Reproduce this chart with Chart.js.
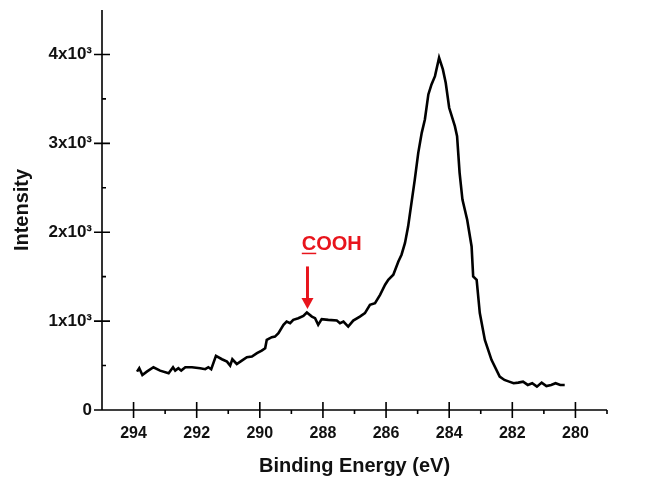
<!DOCTYPE html>
<html>
<head>
<meta charset="utf-8">
<script src="https://cdn.jsdelivr.net/npm/chart.js@4"></script>
<style>
  html, body { margin: 0; background: #fff; }
  #wrap { width: 648px; height: 480px; }
</style>
</head>
<body>
<div id="wrap"><canvas id="c"></canvas></div>
<script>
// C1s spectrum (binding energy in eV, intensity in counts)
const energy = [293.89, 293.82, 293.72, 293.58, 293.37, 293.16, 292.89, 292.75, 292.68, 292.58,
  292.49, 292.36, 292.15, 291.89, 291.73, 291.63, 291.54, 291.39, 291.20, 291.04,
  290.94, 290.87, 290.73, 290.57, 290.41, 290.25, 290.09, 289.94, 289.83, 289.78,
  289.62, 289.52, 289.41, 289.25, 289.15, 289.04, 288.94, 288.78, 288.62, 288.51,
  288.35, 288.25, 288.15, 288.04, 287.83, 287.56, 287.46, 287.35, 287.20, 287.04,
  286.83, 286.67, 286.51, 286.35, 286.19, 286.03, 285.93, 285.77, 285.61, 285.51,
  285.40, 285.30, 285.24, 285.09, 284.98, 284.87, 284.77, 284.66, 284.56, 284.45,
  284.32, 284.20, 284.11, 284.00, 283.82, 283.75, 283.67, 283.58, 283.43, 283.29,
  283.24, 283.13, 283.03, 282.87, 282.66, 282.40, 282.25, 282.10, 281.96, 281.81,
  281.66, 281.51, 281.37, 281.22, 281.07, 280.92, 280.77, 280.63, 280.48, 280.34];
const intensity = [432, 470, 394, 432, 481, 443, 414, 481, 443, 470,
  443, 481, 481, 470, 459, 481, 459, 609, 571, 544,
  499, 571, 518, 556, 594, 601, 639, 668, 695, 789,
  819, 826, 864, 958, 995, 977, 1014, 1033, 1059, 1097,
  1051, 1033, 958, 1022, 1014, 1006, 977, 995, 939, 1006,
  1051, 1090, 1183, 1202, 1296, 1409, 1465, 1521, 1671, 1747,
  1879, 2066, 2217, 2592, 2893, 3118, 3268, 3550, 3663, 3756,
  3964, 3832, 3682, 3400, 3193, 3080, 2668, 2367, 2141, 1840,
  1502, 1465, 1090, 789, 564, 375, 338, 319, 301, 308,
  319, 282, 301, 263, 308, 270, 282, 301, 282, 282];

const xMajor = [294, 292, 290, 288, 286, 284, 282, 280];
const xMinor = [293, 291, 289, 287, 285, 283, 281, 279];
const yMajor = [0, 1000, 2000, 3000, 4000];
const yMinor = [500, 1500, 2500, 3500];
const yLabels = ['0', '1x10³', '2x10³', '3x10³', '4x10³'];

// COOH marker, in data units
const markLabel = 'COOH';
const markX = 288.49;
const markTextX = 288.67;
const markTextY = 1795;
const arrowTop = 1615;
const arrowTip = 1135;

const FONT = '"Liberation Sans", Arial, sans-serif';

const decor = {
  id: 'decor',
  afterDraw(chart) {
    const { ctx, chartArea: a, scales: { x, y } } = chart;
    ctx.save();
    ctx.strokeStyle = '#000';
    ctx.lineWidth = 1.6;
    ctx.beginPath();
    // axis lines
    ctx.moveTo(a.left, a.top); ctx.lineTo(a.left, a.bottom); ctx.lineTo(a.right, a.bottom);
    xMajor.forEach(v => { const p = x.getPixelForValue(v); ctx.moveTo(p, a.bottom - 8); ctx.lineTo(p, a.bottom + 8); });
    xMinor.forEach(v => { const p = x.getPixelForValue(v); ctx.moveTo(p, a.bottom); ctx.lineTo(p, a.bottom + 4); });
    yMajor.forEach(v => { const p = y.getPixelForValue(v); ctx.moveTo(a.left - 8, p); ctx.lineTo(a.left + 8, p); });
    yMinor.forEach(v => { const p = y.getPixelForValue(v); ctx.moveTo(a.left, p); ctx.lineTo(a.left + 4, p); });
    ctx.stroke();

    // annotation
    const red = '#e8141c';
    ctx.fillStyle = red;
    ctx.strokeStyle = red;
    ctx.font = 'bold 20px ' + FONT;
    ctx.textBaseline = 'alphabetic';
    const tx = x.getPixelForValue(markTextX), ty = y.getPixelForValue(markTextY);
    ctx.fillText(markLabel, tx, ty);
    const cw = ctx.measureText(markLabel[0]).width;
    ctx.lineWidth = 1.5;
    ctx.beginPath(); ctx.moveTo(tx, ty + 3); ctx.lineTo(tx + cw, ty + 3); ctx.stroke();

    const ax = x.getPixelForValue(markX);
    const y0 = y.getPixelForValue(arrowTop), y1 = y.getPixelForValue(arrowTip);
    ctx.lineWidth = 3;
    ctx.beginPath(); ctx.moveTo(ax, y0); ctx.lineTo(ax, y1 - 10); ctx.stroke();
    ctx.beginPath();
    ctx.moveTo(ax - 6, y1 - 11); ctx.lineTo(ax + 6, y1 - 11); ctx.lineTo(ax, y1);
    ctx.closePath(); ctx.fill();
    ctx.restore();
  }
};

new Chart(document.getElementById('c'), {
  type: 'line',
  data: {
    datasets: [{
      data: energy.map((e, i) => ({ x: e, y: intensity[i] })),
      borderColor: '#000',
      borderWidth: 2.6,
      pointRadius: 0,
      tension: 0,
      fill: false
    }]
  },
  options: {
    responsive: true,
    maintainAspectRatio: false,
    animation: false,
    events: [],
    layout: { padding: { top: 10, right: 41, left: 0, bottom: 0 } },
    plugins: { legend: { display: false }, tooltip: { enabled: false } },
    scales: {
      x: {
        type: 'linear',
        reverse: true,
        min: 279,
        max: 295,
        grid: { display: false, drawTicks: false },
        border: { display: false },
        afterBuildTicks: s => { s.ticks = xMajor.map(v => ({ value: v })); },
        afterFit: s => { s.height = 70; s.paddingLeft = 0; s.paddingRight = 0; },
        ticks: {
          autoSkip: false,
          maxRotation: 0,
          padding: 14,
          color: '#111',
          font: { family: FONT, size: 16, weight: 'bold' },
          callback: v => String(v)
        },
        title: {
          display: true,
          text: 'Binding Energy (eV)',
          color: '#111',
          font: { family: FONT, size: 20, weight: 'bold' },
          padding: { top: 0, bottom: 2 }
        }
      },
      y: {
        type: 'linear',
        min: 0,
        max: 4500,
        grid: { display: false, drawTicks: false },
        border: { display: false },
        afterBuildTicks: s => { s.ticks = yMajor.map(v => ({ value: v })); },
        afterFit: s => { s.width = 102; s.paddingTop = 0; s.paddingBottom = 0; },
        ticks: {
          autoSkip: false,
          padding: 10,
          color: '#111',
          font: { family: FONT, size: 17, weight: 'bold' },
          callback: v => yLabels[yMajor.indexOf(v)]
        },
        title: {
          display: true,
          text: 'Intensity',
          color: '#111',
          font: { family: FONT, size: 20, weight: 'bold' },
          padding: { top: 10, bottom: 0 }
        }
      }
    }
  },
  plugins: [decor]
});
</script>
</body>
</html>
